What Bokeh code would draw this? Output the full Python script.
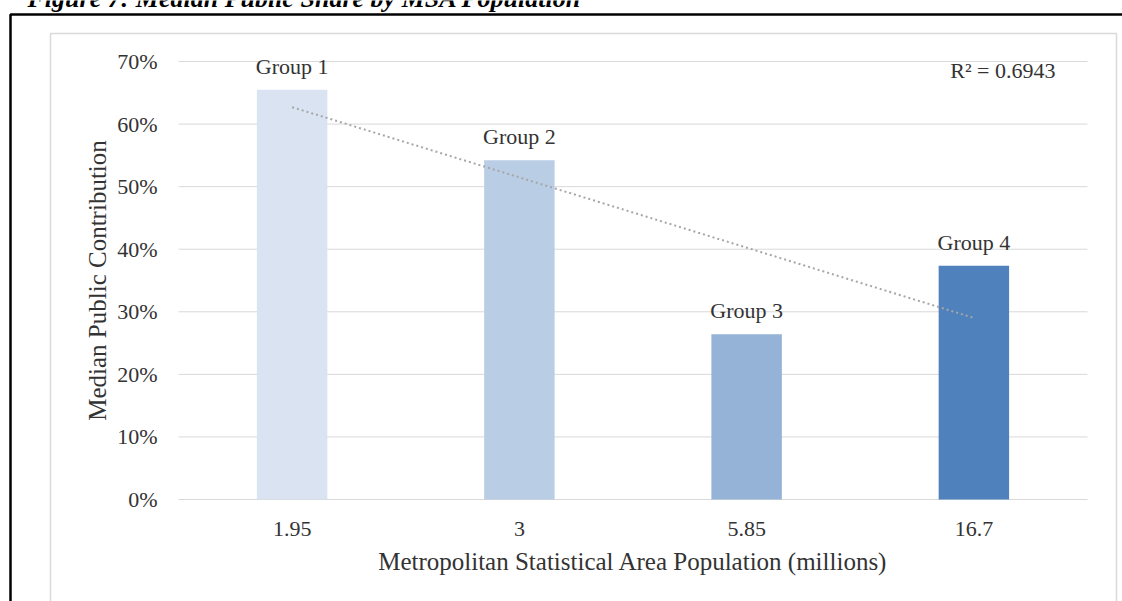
import numpy as np
from bokeh.plotting import figure
from bokeh.models import (ColumnDataSource, Range1d, FixedTicker, NumeralTickFormatter,
                          LabelSet, Label, BoxAnnotation)
from bokeh.embed import file_html
from bokeh.resources import INLINE

# MSA population groups (millions) and their median public share
populations = ["1.95", "3", "5.85", "16.7"]
groups = ["Group 1", "Group 2", "Group 3", "Group 4"]
median_share = [0.655, 0.542, 0.264, 0.3735]
bar_colors = ["#DAE3F1", "#B9CDE5", "#95B3D7", "#4F81BD"]
y_ticks = [0.0, 0.1, 0.2, 0.3, 0.4, 0.5, 0.6, 0.7]
r_squared_text = "R\u00b2 = 0.6943"
figure_title = "Figure 7: Median Public Share by MSA Population"

FONT = "Liberation Serif"
TEXT_COLOR = "#333333"

# page geometry (pixels): the frame fills the page, the plotting area sits inside it
W, H = 1122, 601
AREA_L, AREA_R, AREA_T, AREA_B = 178, 1087, 61, 499
n = len(populations)
x_pos = list(range(1, n + 1))
px_per_x = (AREA_R - AREA_L) / n
px_per_y = (AREA_B - AREA_T) / y_ticks[-1]


def xd(px):
    return 0.5 + (px - AREA_L) / px_per_x


def yd(py):
    return (AREA_B - py) / px_per_y


source = ColumnDataSource(dict(x=x_pos, share=median_share, group=groups, color=bar_colors))

p = figure(width=W, height=H,
           x_range=Range1d(xd(0), xd(W)), y_range=Range1d(yd(H), yd(0)),
           output_backend="svg", toolbar_location=None,
           min_border=0, min_border_left=0, min_border_right=0,
           min_border_top=0, min_border_bottom=0)
p.outline_line_color = None
p.background_fill_color = "white"
p.border_fill_color = "white"
p.xgrid.visible = False
p.ygrid.visible = False

# horizontal gridlines across the plotting area
p.segment(x0=[0.5] * len(y_ticks), x1=[n + 0.5] * len(y_ticks), y0=y_ticks, y1=y_ticks,
          line_color="#d9d9d9", line_width=1)

# bars
p.vbar(x="x", top="share", width=0.31, color="color", line_color=None, source=source)

# linear trendline over the group index
idx = np.array(x_pos)
slope, intercept = np.polyfit(idx, median_share, 1)
trend_y = [slope * idx[0] + intercept, slope * idx[-1] + intercept]
p.line(x=[idx[0], idx[-1]], y=trend_y, line_color="#a6a6a6", line_width=2, line_dash="2 3")

# group labels above bars
p.add_layout(LabelSet(x="x", y="share", text="group", source=source,
                      text_align="center", text_baseline="alphabetic", y_offset=16,
                      text_font=FONT, text_font_size="22px", text_color=TEXT_COLOR))

p.add_layout(Label(x=xd(1055), y=yd(70), text=r_squared_text, text_align="right",
                   text_baseline="middle", text_font=FONT,
                   text_font_size="22px", text_color=TEXT_COLOR))

# axes pinned to the plotting area's edges
p.yaxis.fixed_location = 0.5
p.xaxis.fixed_location = 0.0
p.yaxis.bounds = (0, y_ticks[-1])
p.xaxis.bounds = (0.5, n + 0.5)
p.yaxis.ticker = FixedTicker(ticks=y_ticks)
p.yaxis.formatter = NumeralTickFormatter(format="0%")
p.xaxis.ticker = FixedTicker(ticks=x_pos)
p.xaxis.major_label_overrides = {x: lab for x, lab in zip(x_pos, populations)}
for ax in (p.xaxis[0], p.yaxis[0]):
    ax.axis_line_color = None
    ax.major_tick_line_color = None
    ax.minor_tick_line_color = None
    ax.major_tick_out = 0
    ax.major_tick_in = 0
    ax.minor_tick_out = 0
    ax.major_label_text_font = FONT
    ax.major_label_text_font_size = "22px"
    ax.major_label_text_color = TEXT_COLOR
    ax.axis_label_text_font = FONT
    ax.axis_label_text_font_size = "25px"
    ax.axis_label_text_font_style = "normal"
    ax.axis_label_text_color = TEXT_COLOR
p.yaxis.major_label_standoff = 21
p.xaxis.major_label_standoff = 22
p.yaxis.axis_label = "Median Public Contribution"
p.xaxis.axis_label = "Metropolitan Statistical Area Population (millions)"
p.yaxis.axis_label_standoff = 3
p.xaxis.axis_label_standoff = 9

# chart area border and page frame
p.add_layout(BoxAnnotation(left=xd(50), right=xd(1116), top=yd(33), bottom=yd(H + 30),
                           fill_color=None, fill_alpha=0,
                           line_color="#d9d9d9", line_alpha=1, line_width=1.5))
p.add_layout(BoxAnnotation(left=xd(10), right=xd(W + 30), top=yd(14), bottom=yd(H + 30),
                           fill_color=None, fill_alpha=0,
                           line_color="black", line_alpha=1, line_width=2.5))

# figure caption running off the top edge of the page
p.add_layout(Label(x=xd(27), y=yd(-2), text=figure_title,
                   text_font=FONT, text_font_style="bold italic",
                   text_font_size="26px", text_baseline="alphabetic",
                   text_color="black"))

open("out.html", "w").write(file_html(p, INLINE))
